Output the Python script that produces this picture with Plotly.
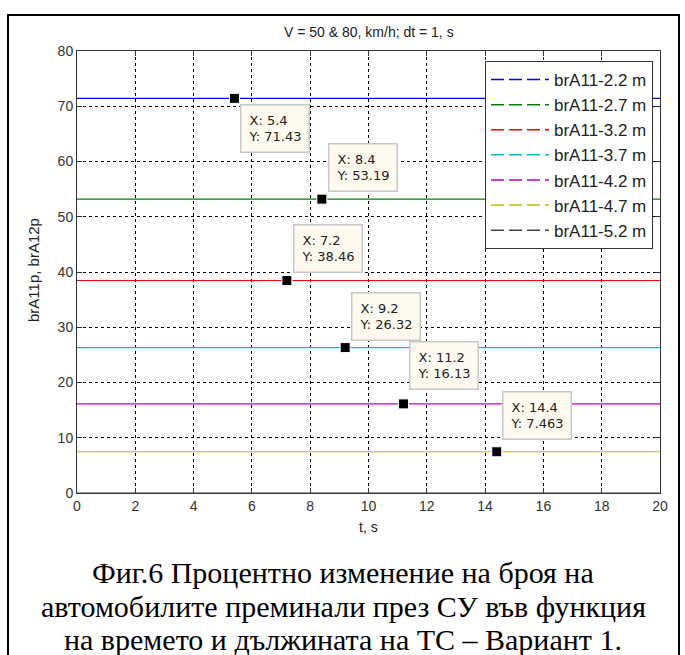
import plotly.graph_objects as go

# ---- data ----
t_values = list(range(0, 21))
series_names = ["brA11-2.2 m", "brA11-2.7 m", "brA11-3.2 m", "brA11-3.7 m",
                "brA11-4.2 m", "brA11-4.7 m", "brA11-5.2 m"]
series_levels = [71.43, 53.19, 38.46, 26.32, 16.13, 7.463, 0.0]
series_colors = ["#0000ff", "#008000", "#ff0000", "#00bfbf",
                 "#bf00bf", "#bfbf00", "#404040"]
tip_x = [5.4, 8.4, 7.2, 9.2, 11.2, 14.4]
tip_y = [71.43, 53.19, 38.46, 26.32, 16.13, 7.463]
tip_labels_x = ["5.4", "8.4", "7.2", "9.2", "11.2", "14.4"]
tip_labels_y = ["71.43", "53.19", "38.46", "26.32", "16.13", "7.463"]
x_ticks = list(range(0, 21, 2))
y_ticks = list(range(0, 81, 10))
title_text = "V = 50 &amp; 80, km/h; dt = 1, s"
x_title = "t, s"
y_title = "brA11p, brA12p"
caption_lines = ["Фиг.6 Процентно изменение на броя на",
                 "автомобилите преминали през СУ във функция",
                 "на времето и дължината на ТС – Вариант 1."]

# ---- layout geometry (pixels) ----
W, H = 685, 655
L, R, T, B = 77, 660, 51, 493
pw, ph = R - L, B - T

def px_x(p):
    return (p - L) / pw

def px_y(p):
    return (B - p) / ph

fig = go.Figure()

for name, lvl, col in zip(series_names, series_levels, series_colors):
    fig.add_trace(go.Scatter(x=t_values, y=[lvl] * len(t_values), mode="lines",
                             line=dict(color=col, width=1.2), showlegend=False,
                             hoverinfo="skip"))
# legend-only entries (MATLAB-like broken sample)
for name, col in zip(series_names, series_colors):
    fig.add_trace(go.Scatter(x=[None], y=[None], mode="lines", name=name,
                             line=dict(color=col, width=1.5, dash="13px,5px")))

fig.add_trace(go.Scatter(x=tip_x, y=tip_y, mode="markers", showlegend=False,
                         hoverinfo="skip",
                         marker=dict(symbol="square", size=10, color="black",
                                     line=dict(color="white", width=1))))

# data tip boxes: (xshift, yshift, yanchor)
tip_pos = [(6, -6, "top"), (6, 7, "bottom"), (6, 8, "bottom"),
           (6, 7, "bottom"), (6, 14, "bottom"), (5, 12, "bottom")]
for xv, yv, lx, ly, (xs, ys, ya) in zip(tip_x, tip_y, tip_labels_x, tip_labels_y, tip_pos):
    fig.add_annotation(x=xv, y=yv, xref="x", yref="y", showarrow=False,
                       text=f"X: {lx}<br>Y: {ly}", align="left",
                       xanchor="left", yanchor=ya, xshift=xs, yshift=ys,
                       font=dict(family="DejaVu Sans, Verdana", size=13, color="#222222"),
                       bgcolor="#fffaef", bordercolor="#c8c8c8", borderwidth=1.5,
                       borderpad=7)

axis_common = dict(showline=True, linecolor="#333333", linewidth=1, mirror="ticks",
                   ticks="inside", ticklen=5, tickcolor="#333333",
                   showgrid=True, gridcolor="black", gridwidth=1, griddash="3px,3px",
                   zeroline=False,
                   tickfont=dict(family="Liberation Sans Narrow, Liberation Sans, Arial",
                                 size=14, color="#333333"))

fig.update_xaxes(range=[0, 20], tickvals=x_ticks, **axis_common)
fig.update_yaxes(range=[0, 80], tickvals=y_ticks, **axis_common)

fig.add_annotation(xref="paper", yref="paper", x=0.5, y=px_y(32), text=title_text,
                   showarrow=False, xanchor="center", yanchor="middle",
                   font=dict(family="Liberation Sans Narrow, Liberation Sans, Arial",
                             size=14, color="#222222"))
fig.add_annotation(xref="paper", yref="paper", x=0.5, y=px_y(527), text=x_title,
                   showarrow=False, xanchor="center", yanchor="middle",
                   font=dict(family="Liberation Sans Narrow, Liberation Sans, Arial",
                             size=14, color="#222222"))
fig.add_annotation(xref="paper", yref="paper", x=px_x(33), y=px_y(270), text=y_title,
                   showarrow=False, xanchor="center", yanchor="middle", textangle=-90,
                   font=dict(family="Liberation Sans Narrow, Liberation Sans, Arial",
                             size=15, color="#222222"))

for line, yc in zip(caption_lines, [572, 606, 639]):
    fig.add_annotation(xref="paper", yref="paper", x=px_x(343), y=px_y(yc), text=line,
                       showarrow=False, xanchor="center", yanchor="middle",
                       font=dict(family="Liberation Serif, Times New Roman", size=30,
                                 color="black"))

# outer frame
fig.add_shape(type="rect", xref="paper", yref="paper",
              x0=px_x(8), x1=px_x(679), y0=px_y(700), y1=px_y(15),
              line=dict(color="black", width=2), fillcolor="rgba(0,0,0,0)", layer="below")

fig.update_layout(
    width=W, height=H, autosize=False,
    margin=dict(l=L, r=W - R, t=T, b=H - B),
    paper_bgcolor="white", plot_bgcolor="white",
    showlegend=True,
    legend=dict(x=px_x(653), xanchor="right", y=px_y(61), yanchor="top",
                bgcolor="white", bordercolor="#333333", borderwidth=1,
                font=dict(family="Liberation Sans, Arial", size=17, color="#222222"),
                tracegroupgap=0, itemwidth=58),
)

fig.write_html("out.html", config={"displayModeBar": False},
               post_script="document.body.style.margin='0px';document.body.style.padding='0px';")
